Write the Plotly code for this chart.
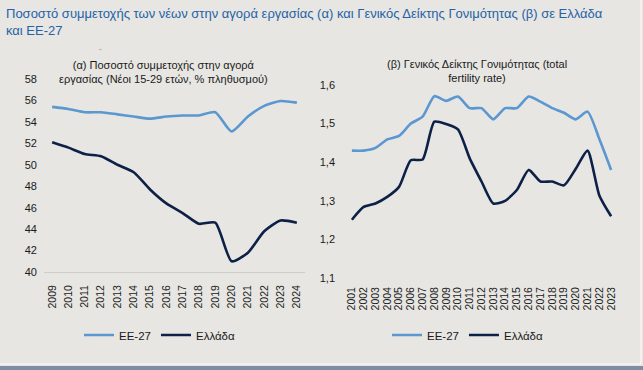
import plotly.graph_objects as go

years_a = list(range(2009, 2025))
eu_a = [55.4, 55.2, 54.9, 54.9, 54.7, 54.5, 54.3, 54.5, 54.6, 54.6, 54.9, 53.1, 54.5, 55.5, 55.95, 55.8]
gr_a = [52.1, 51.6, 51.0, 50.8, 50.0, 49.3, 47.7, 46.4, 45.5, 44.5, 44.6, 41.0, 41.8, 43.8, 44.8, 44.6]

years_b = list(range(2001, 2024))
eu_b = [1.43, 1.43, 1.437, 1.459, 1.468, 1.50, 1.518, 1.571, 1.559, 1.57, 1.54, 1.54, 1.511,
        1.54, 1.54, 1.57, 1.557, 1.54, 1.528, 1.511, 1.531, 1.46, 1.38]
gr_b = [1.251, 1.284, 1.293, 1.31, 1.336, 1.405, 1.407, 1.505, 1.499, 1.485, 1.41, 1.35, 1.293,
        1.30, 1.328, 1.38, 1.35, 1.35, 1.34, 1.383, 1.43, 1.314, 1.26]

EU_COLOR = "#5b97d1"
GR_COLOR = "#0d2147"
BG = "#e7e6e2"
FONT = "Liberation Sans, Arial, sans-serif"
W, H = 643, 370

def px_x(p):
    return p / W

def px_y(p):
    return 1 - p / H

fig = go.Figure()
lw = 2.6
fig.add_trace(go.Scatter(x=years_a, y=eu_a, name="EE-27", mode="lines", line=dict(color=EU_COLOR, width=lw, shape="spline", smoothing=0.6),
                         xaxis="x", yaxis="y", legend="legend"))
fig.add_trace(go.Scatter(x=years_a, y=gr_a, name="Ελλάδα", mode="lines", line=dict(color=GR_COLOR, width=lw, shape="spline", smoothing=0.6),
                         xaxis="x", yaxis="y", legend="legend"))
fig.add_trace(go.Scatter(x=years_b, y=eu_b, name="EE-27", mode="lines", line=dict(color=EU_COLOR, width=lw, shape="spline", smoothing=0.6),
                         xaxis="x2", yaxis="y2", legend="legend2"))
fig.add_trace(go.Scatter(x=years_b, y=gr_b, name="Ελλάδα", mode="lines", line=dict(color=GR_COLOR, width=lw, shape="spline", smoothing=0.6),
                         xaxis="x2", yaxis="y2", legend="legend2"))

tickfont = dict(family=FONT, size=11, color="#1a1a1a")
xtickfont = dict(family=FONT, size=10.5, color="#1a1a1a")

fig.update_layout(
    width=W, height=H,
    margin=dict(l=0, r=0, t=0, b=0, autoexpand=False),
    paper_bgcolor=BG, plot_bgcolor=BG,
    separators=",.",
    font=dict(family=FONT, color="#1a1a1a"),
    xaxis=dict(domain=[px_x(44), px_x(305)], range=[2008.5, 2024.5], tickvals=years_a,
               ticktext=[str(y) for y in years_a], tickangle=-90, tickfont=xtickfont,
               showgrid=False, zeroline=False, showline=True, linecolor="#cfcdc9", linewidth=1,
               ticks="", anchor="y", automargin=False, ticklabelstandoff=8),
    yaxis=dict(domain=[px_y(272), px_y(79)], range=[40, 58], dtick=2, tickfont=tickfont,
               showgrid=False, zeroline=False, showline=False, ticks="", anchor="x",
               ticklabelstandoff=6, automargin=False),
    xaxis2=dict(domain=[px_x(346), px_x(617)], range=[2000.5, 2023.5], tickvals=years_b,
                ticktext=[str(y) for y in years_b], tickangle=-90, tickfont=xtickfont,
                showgrid=False, zeroline=False, showline=False, ticks="", anchor="y2",
                automargin=False, ticklabelstandoff=6),
    yaxis2=dict(domain=[px_y(278), px_y(85)], range=[1.1, 1.6], dtick=0.1, tickformat=".1f",
                tickfont=tickfont, showgrid=False, zeroline=False, showline=False, ticks="",
                anchor="x2", ticklabelstandoff=10, automargin=False),
    legend=dict(orientation="h", x=px_x(160), y=px_y(335), xanchor="center", yanchor="middle",
                bgcolor="rgba(0,0,0,0)", font=dict(family=FONT, size=11.5, color="#1a1a1a"),
                itemwidth=30, tracegroupgap=0),
    legend2=dict(orientation="h", x=px_x(468), y=px_y(335), xanchor="center", yanchor="middle",
                 bgcolor="rgba(0,0,0,0)", font=dict(family=FONT, size=11.5, color="#1a1a1a"),
                 itemwidth=30, tracegroupgap=0),
    showlegend=True,
)

fig.add_annotation(text="Ποσοστό συμμετοχής των νέων στην αγορά εργασίας (α) και Γενικός Δείκτης Γονιμότητας (β) σε Ελλάδα<br>και ΕΕ-27",
                   xref="paper", yref="paper", x=px_x(4), y=px_y(4), xanchor="left", yanchor="top",
                   align="left", showarrow=False, font=dict(family=FONT, size=13, color="#2462a8"))
fig.add_annotation(text="(α) Ποσοστό συμμετοχής στην αγορά<br>εργασίας (Νέοι 15-29 ετών, % πληθυσμού)",
                   xref="paper", yref="paper", x=px_x(163), y=px_y(57), xanchor="center", yanchor="top",
                   align="center", showarrow=False, font=dict(family=FONT, size=11, color="#1a1a1a"))
fig.add_annotation(text="(β) Γενικός Δείκτης Γονιμότητας (total<br>fertility rate)",
                   xref="paper", yref="paper", x=px_x(477), y=px_y(56), xanchor="center", yanchor="top",
                   align="center", showarrow=False, font=dict(family=FONT, size=11, color="#1a1a1a"))
fig.add_annotation(text="ˇ", xref="paper", yref="paper", x=px_x(100), y=px_y(51), xanchor="center",
                   yanchor="middle", showarrow=False, font=dict(family=FONT, size=8, color="#8a8a8a"))

# frame edges
fig.add_shape(type="line", xref="paper", yref="paper", x0=px_x(641), x1=px_x(641), y0=px_y(364), y1=1,
              line=dict(color="#f4f4f2", width=1.5))
fig.add_shape(type="line", xref="paper", yref="paper", x0=0, x1=px_x(641), y0=px_y(364), y1=px_y(364),
              line=dict(color="#f4f4f2", width=1.5))
fig.add_shape(type="rect", xref="paper", yref="paper", x0=0, x1=1, y0=0, y1=px_y(366),
              line=dict(width=0), fillcolor="#7f8ca4")

fig.write_html("out.html", config={"displayModeBar": False},
               post_script="document.body.style.margin='0';document.body.style.overflow='hidden';")
